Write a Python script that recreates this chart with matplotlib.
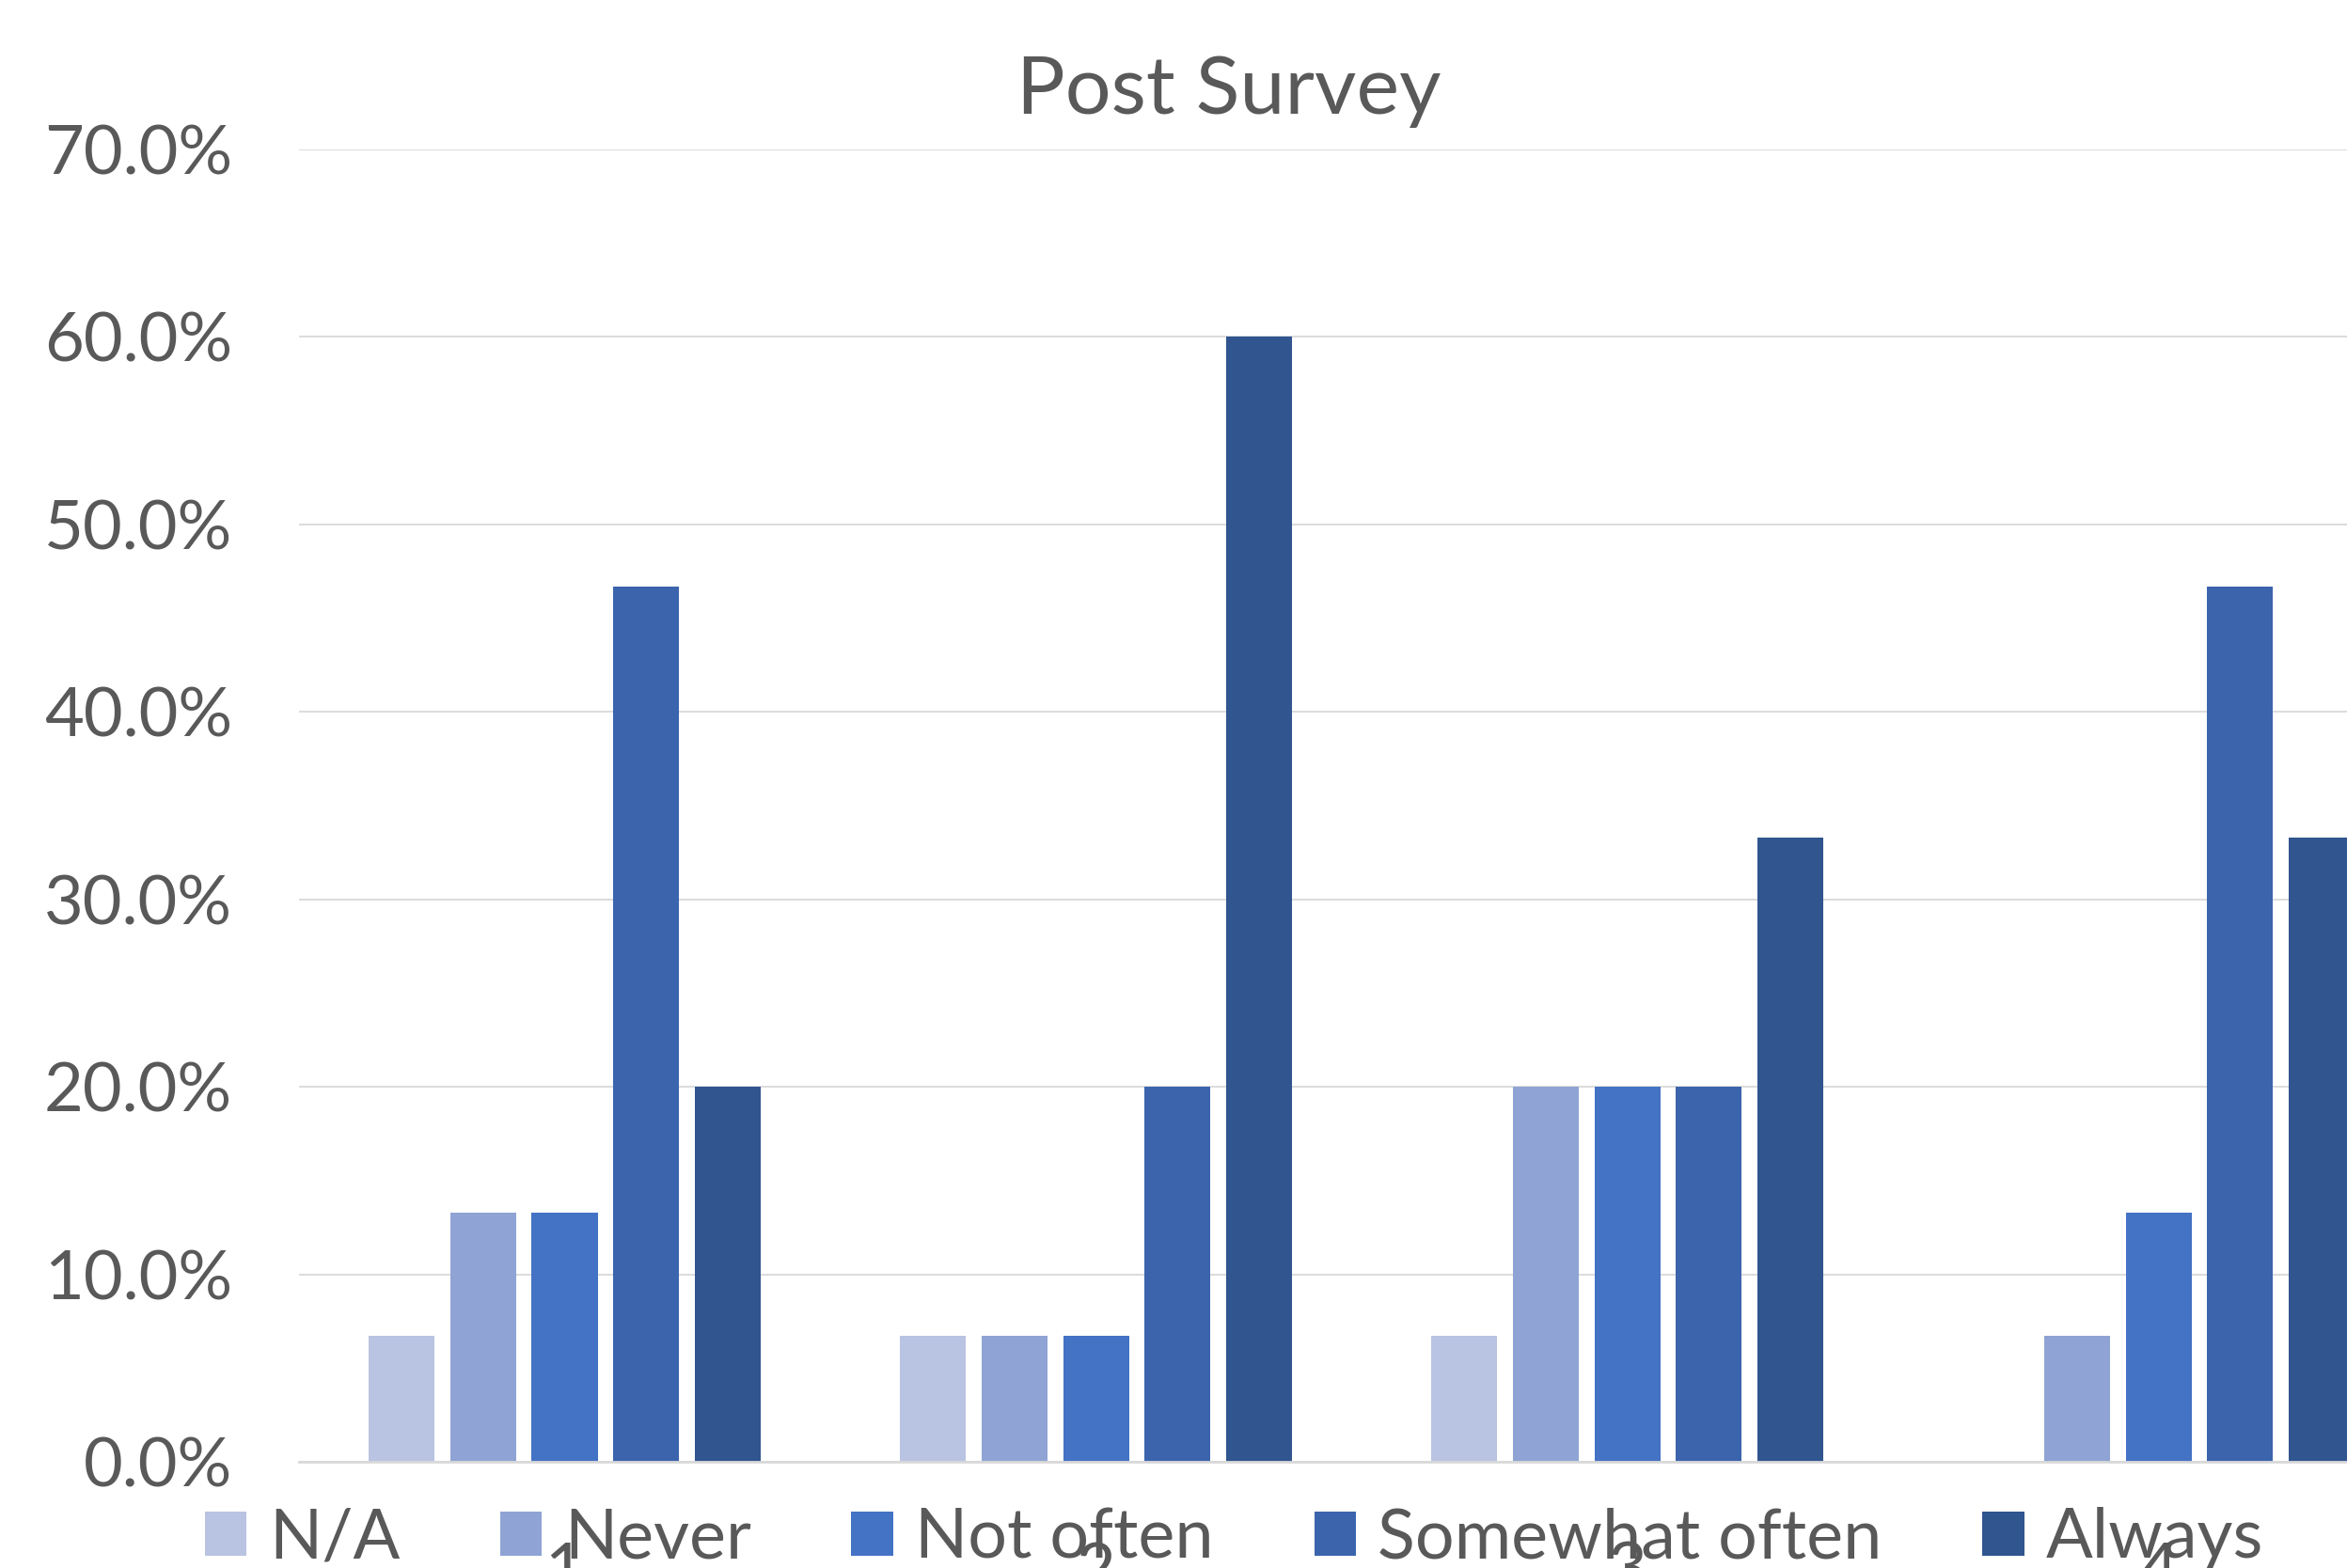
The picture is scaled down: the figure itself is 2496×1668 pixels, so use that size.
import numpy as np
import matplotlib
matplotlib.use("Agg")
import matplotlib.pyplot as plt
from matplotlib.ticker import FuncFormatter

# Survey answers per question, share of respondents
questions = ["1", "2", "3", "4"]
answers = ["N/A", "Never", "Not often", "Somewhat often", "Always"]
na_share = [6.7, 6.7, 6.7, 0.0]
never_share = [13.3, 6.7, 20.0, 6.7]
not_often_share = [13.3, 6.7, 20.0, 13.3]
somewhat_share = [46.7, 20.0, 20.0, 46.7]
always_share = [20.0, 60.0, 33.3, 33.3]

colors = ["#B9C3E2", "#8FA4D4", "#4472C4", "#3B64AD", "#30558F"]
text_color = "#595959"
grid_color = "#D9D9D9"

plt.rcParams["font.family"] = ["Lato", "DejaVu Sans"]

fig = plt.figure(figsize=(24.96, 16.68), dpi=100)
ax = fig.add_axes([0.1274, 0.0677, 0.9055, 0.837])

series = [na_share, never_share, not_often_share, somewhat_share, always_share]
x = np.arange(len(questions))
step = 0.1535
width = 0.124
for k, (name, vals) in enumerate(zip(answers, series)):
    ax.bar(x + (k - 2) * step, np.array(vals) / 100, width=width,
           color=colors[k], label=name, zorder=3)

ax.set_xlim(-0.5, len(questions) - 0.5)
ax.set_ylim(0, 0.7)
ax.set_yticks(np.arange(0, 0.71, 0.1))
ax.yaxis.set_major_formatter(FuncFormatter(lambda v, _: f"{v * 100:.1f}%"))
ax.set_xticks(x)
ax.set_xticklabels(questions)

ax.grid(axis="y", color=grid_color, linewidth=1.3, zorder=0)
for side in ["top", "right", "left"]:
    ax.spines[side].set_visible(False)
ax.spines["bottom"].set_color(grid_color)
ax.spines["bottom"].set_linewidth(2.0)
ax.spines["bottom"].set_zorder(4)

ax.tick_params(axis="y", length=0, pad=51, labelsize=52, labelcolor=text_color)
ax.tick_params(axis="x", length=0, pad=61, labelsize=52, labelcolor=text_color)

fig.text(0.5236, 0.9276, "Post Survey", ha="center", va="baseline",
         fontsize=62, color=text_color)

fig.legend(loc="center", bbox_to_anchor=(0.526, 0.0186), ncol=5, frameon=False,
           fontsize=53, labelcolor=text_color, handlelength=0.6,
           handleheight=0.6, handletextpad=0.32, columnspacing=1.45,
           borderpad=0, borderaxespad=0)

fig.savefig("out.png", dpi=100)
